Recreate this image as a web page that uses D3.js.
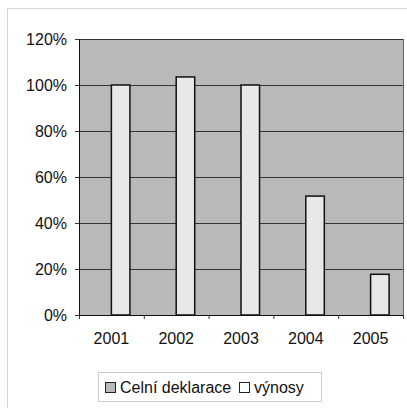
<!DOCTYPE html>
<html><head><meta charset="utf-8">
<script src="https://cdn.jsdelivr.net/npm/d3@7/dist/d3.min.js"></script>
<style>
html,body{margin:0;padding:0;background:#fff;}
svg{display:block;font-family:"Liberation Sans",Arial,sans-serif;}
</style></head>
<body>
<script>
const years = ["2001","2002","2003","2004","2005"];
const seriesNames = ["Celní deklarace","výnosy"];
const celniDeklarace = [0,0,0,0,0];
const vynosy = [1.00,1.035,1.00,0.517,0.177];
const yTicks = [0,0.2,0.4,0.6,0.8,1.0,1.2];

const W=407,H=408;
const svg=d3.select("body").append("svg").attr("width",W).attr("height",H);
const bgFill="#b9b9b9", barFill="#e8e8e8";

// outer chart border
svg.append("rect").attr("x",7.5).attr("y",8.5).attr("width",420).attr("height",420)
  .attr("fill","none").attr("stroke","#aaa").attr("stroke-dasharray","1,1");

const L=79,R=403,T=39,B=315;
const x=d3.scaleBand().domain(years).range([L,R]).paddingInner(0).paddingOuter(0);
const x1=d3.scaleBand().domain(seriesNames).range([0,x.bandwidth()]).paddingInner(0).paddingOuter(0.75);
const y=d3.scaleLinear().domain([0,1.2]).range([B,T]);

// plot area
svg.append("rect").attr("x",L).attr("y",T).attr("width",R-L).attr("height",B-T).attr("fill",bgFill);
// gridlines
svg.append("g").selectAll("line").data(yTicks.filter(d=>d>0)).join("line")
  .attr("x1",L).attr("x2",R).attr("y1",d=>Math.round(y(d))+0.5).attr("y2",d=>Math.round(y(d))+0.5)
  .attr("stroke","#333").attr("stroke-width",1);
// right border
svg.append("line").attr("x1",R+0.5).attr("x2",R+0.5).attr("y1",T).attr("y2",B).attr("stroke","#666");

// bars
const data=years.map((yr,i)=>({yr,vals:[celniDeklarace[i],vynosy[i]]}));
const g=svg.append("g");
data.forEach(d=>{
  d.vals.forEach((v,j)=>{
    if(v<=0) return;
    const bx=x(d.yr)+x1(seriesNames[j]);
    g.append("rect").attr("x",bx).attr("y",y(v)).attr("width",x1.bandwidth()).attr("height",B-y(v))
      .attr("fill",j===0?bgFill:barFill).attr("stroke","#111").attr("stroke-width",1.5);
  });
});

// y axis
const yAxis=d3.axisLeft(y).tickValues(yTicks).tickFormat(d3.format(".0%")).tickSize(4).tickPadding(8);
const ya=svg.append("g").attr("transform",`translate(${L},0)`).call(yAxis);
ya.select(".domain").attr("stroke","#111");
ya.selectAll("text").attr("font-size",16).attr("fill","#111").attr("font-family","Liberation Sans, Arial, sans-serif");
ya.selectAll(".tick line").attr("stroke","#333");

// x axis
const xAxis=d3.axisBottom(x).tickSize(0).tickPadding(18);
const xa=svg.append("g").attr("transform",`translate(0,${B})`).call(xAxis);
xa.select(".domain").attr("stroke","#111").attr("stroke-width",1.2);
xa.selectAll("text").attr("font-size",16).attr("fill","#111").attr("font-family","Liberation Sans, Arial, sans-serif");
// category boundary ticks
svg.append("g").selectAll("line").data(years.map(yr=>x(yr)).concat([R])).join("line")
  .attr("x1",d=>d+0.5).attr("x2",d=>d+0.5).attr("y1",B).attr("y2",B+4).attr("stroke","#333");

// legend
const lg=svg.append("g");
lg.append("rect").attr("x",98.5).attr("y",372.5).attr("width",223).attr("height",29)
  .attr("fill","#fff").attr("stroke","#999").attr("stroke-dasharray","1,1");
const items=[{name:seriesNames[0],fill:bgFill,sx:105,tx:120},{name:seriesNames[1],fill:"#fff",sx:239,tx:254}];
items.forEach(it=>{
  lg.append("rect").attr("x",it.sx+0.5).attr("y",382.5).attr("width",10).attr("height",10)
    .attr("fill",it.fill).attr("stroke","#222");
  lg.append("text").attr("x",it.tx).attr("y",393).attr("font-size",16).attr("fill","#111").text(it.name);
});
</script>
</body></html>
